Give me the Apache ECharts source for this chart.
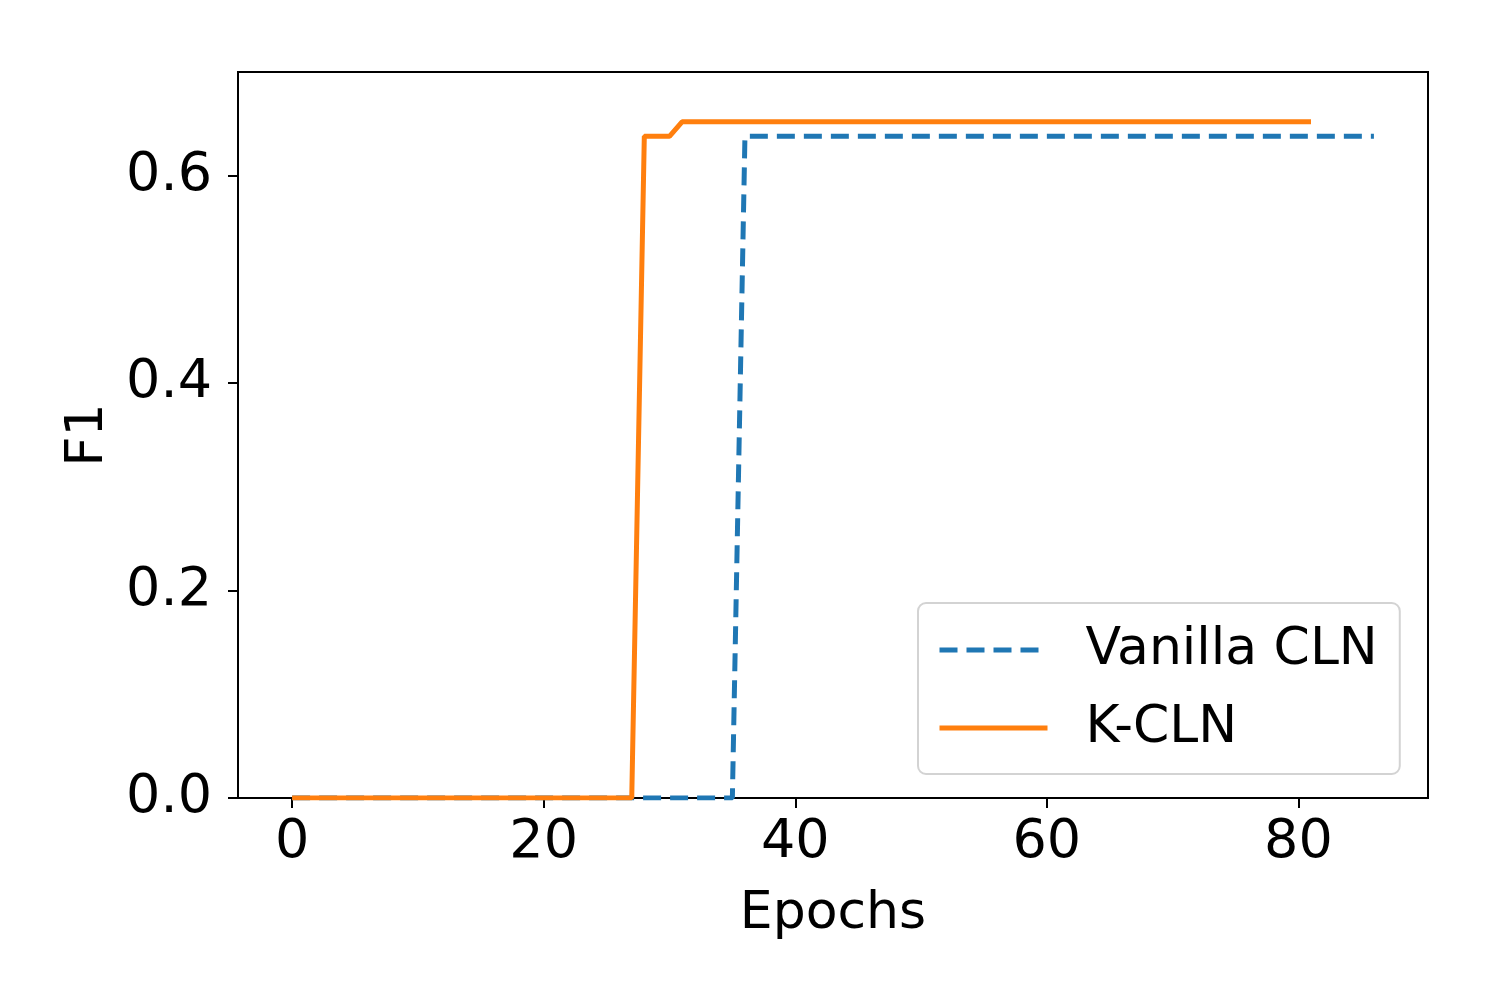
<!DOCTYPE html>
<html>
<head>
<meta charset="utf-8">
<title>F1 vs Epochs</title>
<script src="https://cdn.jsdelivr.net/npm/echarts@6/dist/echarts.min.js"></script>
<style>
  html, body { margin: 0; padding: 0; background: #fff; }
  #main { width: 1500px; height: 1000px; }
</style>
</head>
<body>
<div id="main"></div>
<script type="text/javascript">
// epochs and F1 values
var epochsVanilla = [0,1,2,3,4,5,6,7,8,9,10,11,12,13,14,15,16,17,18,19,20,21,22,23,24,25,26,27,28,29,
  30,31,32,33,34,35,36,37,38,39,40,41,42,43,44,45,46,47,48,49,50,51,52,53,54,55,56,57,58,59,
  60,61,62,63,64,65,66,67,68,69,70,71,72,73,74,75,76,77,78,79,80,81,82,83,84,85,86];
var f1Vanilla = [0,0,0,0,0,0,0,0,0,0,0,0,0,0,0,0,0,0,0,0,0,0,0,0,0,0,0,0,0,0,
  0,0,0,0,0,0,0.638,0.638,0.638,0.638,0.638,0.638,0.638,0.638,0.638,0.638,0.638,0.638,0.638,0.638,
  0.638,0.638,0.638,0.638,0.638,0.638,0.638,0.638,0.638,0.638,0.638,0.638,0.638,0.638,0.638,0.638,
  0.638,0.638,0.638,0.638,0.638,0.638,0.638,0.638,0.638,0.638,0.638,0.638,0.638,0.638,0.638,0.638,
  0.638,0.638,0.638,0.638,0.638];

var epochsKcln = [0,1,2,3,4,5,6,7,8,9,10,11,12,13,14,15,16,17,18,19,20,21,22,23,24,25,26,27,28,29,
  30,31,32,33,34,35,36,37,38,39,40,41,42,43,44,45,46,47,48,49,50,51,52,53,54,55,56,57,58,59,
  60,61,62,63,64,65,66,67,68,69,70,71,72,73,74,75,76,77,78,79,80,81];
var f1Kcln = [0,0,0,0,0,0,0,0,0,0,0,0,0,0,0,0,0,0,0,0,0,0,0,0,0,0,0,0,0.638,0.638,
  0.638,0.652,0.652,0.652,0.652,0.652,0.652,0.652,0.652,0.652,0.652,0.652,0.652,0.652,0.652,0.652,
  0.652,0.652,0.652,0.652,0.652,0.652,0.652,0.652,0.652,0.652,0.652,0.652,0.652,0.652,0.652,0.652,
  0.652,0.652,0.652,0.652,0.652,0.652,0.652,0.652,0.652,0.652,0.652,0.652,0.652,0.652,0.652,0.652,
  0.652,0.652,0.652,0.652];

var xTicks = [0, 20, 40, 60, 80];
var yTicks = [0, 0.2, 0.4, 0.6];

function pairs(xs, ys) {
  return xs.map(function (x, i) { return [x, ys[i]]; });
}

var font = 'DejaVu Sans';
var myChart = echarts.init(document.getElementById('main'));

var option = {
  animation: false,
  backgroundColor: '#fff',
  grid: {
    left: 238, top: 72, width: 1190, height: 726,
    show: true, borderColor: '#000', borderWidth: 2, backgroundColor: 'transparent'
  },
  legend: {
    orient: 'vertical',
    left: 918, top: 603,
    data: ['Vanilla CLN', 'K-CLN'],
    itemWidth: 108, itemHeight: 20, itemGap: 26,
    padding: [21, 22, 20, 19],
    backgroundColor: 'rgba(255,255,255,0.8)',
    borderColor: '#d3d3d3', borderWidth: 2, borderRadius: 8,
    itemStyle: { opacity: 0 },
    lineStyle: { width: 5 },
    textStyle: { fontFamily: font, fontSize: 52, color: '#000', padding: [0, 0, 0, 33] }
  },
  xAxis: {
    type: 'value', min: -4.3, max: 90.3,
    name: 'Epochs', nameLocation: 'middle', nameGap: 90,
    nameTextStyle: { fontFamily: font, fontSize: 52, color: '#000' },
    axisLine: { show: true, onZero: false, lineStyle: { color: '#000', width: 2 } },
    axisTick: { show: true, length: 10, customValues: xTicks, lineStyle: { color: '#000', width: 2 } },
    axisLabel: { customValues: xTicks, fontFamily: font, fontSize: 54, color: '#000', margin: 18 },
    splitLine: { show: false }
  },
  yAxis: {
    type: 'value', min: 0, max: 0.7,
    name: 'F1', nameLocation: 'middle', nameGap: 124, nameRotate: 90,
    nameTextStyle: { fontFamily: font, fontSize: 52, color: '#000' },
    axisLine: { show: true, onZero: false, lineStyle: { color: '#000', width: 2 } },
    axisTick: { show: true, length: 10, customValues: yTicks, lineStyle: { color: '#000', width: 2 } },
    axisLabel: {
      customValues: yTicks, fontFamily: font, fontSize: 54, color: '#000', margin: 26,
      formatter: function (v) { return v.toFixed(1); }
    },
    splitLine: { show: false }
  },
  series: [
    {
      name: 'Vanilla CLN', type: 'line', data: pairs(epochsVanilla, f1Vanilla),
      showSymbol: false, symbol: 'none', z: 2,
      itemStyle: { color: '#1f77b4' },
      lineStyle: { color: '#1f77b4', width: 5, type: [18, 9] }
    },
    {
      name: 'K-CLN', type: 'line', data: pairs(epochsKcln, f1Kcln),
      showSymbol: false, symbol: 'none', z: 3,
      itemStyle: { color: '#ff7f0e' },
      lineStyle: { color: '#ff7f0e', width: 5 }
    }
  ]
};

myChart.setOption(option);
</script>
</body>
</html>
